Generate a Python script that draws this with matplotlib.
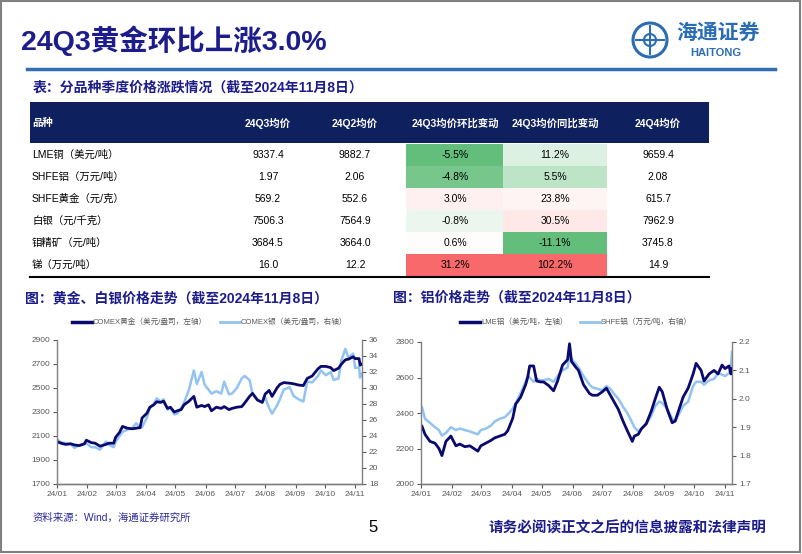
import matplotlib.pyplot as plt
import matplotlib.dates as mdates
import numpy as np
import pandas as pd
from matplotlib.patches import Rectangle, Circle

plt.rcParams['font.family'] = ['Liberation Sans', 'Noto Sans CJK SC']

# ---- table data ----
products = ['LME铜（美元/吨）', 'SHFE铝（万元/吨）', 'SHFE黄金（元/克）',
            '白银（元/千克）', '钼精矿（元/吨）', '锑（万元/吨）']
q3_avg = [9337.4, 1.97, 569.2, 7506.3, 3684.5, 16.0]
q2_avg = [9882.7, 2.06, 552.6, 7564.9, 3664.0, 12.2]
qoq_pct = [-5.5, -4.8, 3.0, -0.8, 0.6, 31.2]
yoy_pct = [11.2, 5.5, 23.8, 30.5, -11.1, 102.2]
q4_avg = [9659.4, 2.08, 615.7, 7962.9, 3745.8, 14.9]
decimals = [1, 2, 1, 1, 1, 1]
headers = ['品种', '24Q3均价', '24Q2均价', '24Q3均价环比变动', '24Q3均价同比变动', '24Q4均价']

# ---- gold / silver ----
gs_dates = ['2024-01-02', '2024-01-05', '2024-01-10', '2024-01-15', '2024-01-19', '2024-01-24', '2024-01-29', '2024-01-31',
            '2024-02-05', '2024-02-09', '2024-02-14', '2024-02-20', '2024-02-23', '2024-02-28',
            '2024-03-01', '2024-03-05', '2024-03-08', '2024-03-13', '2024-03-18', '2024-03-22', '2024-03-26', '2024-03-28',
            '2024-04-02', '2024-04-05', '2024-04-09', '2024-04-12', '2024-04-16', '2024-04-19', '2024-04-23', '2024-04-26', '2024-04-30',
            '2024-05-03', '2024-05-07', '2024-05-10', '2024-05-15', '2024-05-20', '2024-05-23', '2024-05-28', '2024-05-31',
            '2024-06-04', '2024-06-07', '2024-06-12', '2024-06-17', '2024-06-20', '2024-06-25', '2024-06-28',
            '2024-07-03', '2024-07-08', '2024-07-11', '2024-07-16', '2024-07-19', '2024-07-24', '2024-07-29',
            '2024-08-01', '2024-08-05', '2024-08-08', '2024-08-13', '2024-08-16', '2024-08-20', '2024-08-26', '2024-08-30',
            '2024-09-04', '2024-09-09', '2024-09-13', '2024-09-18', '2024-09-24', '2024-09-27',
            '2024-10-02', '2024-10-07', '2024-10-10', '2024-10-15', '2024-10-18', '2024-10-22', '2024-10-25', '2024-10-30',
            '2024-11-01', '2024-11-05', '2024-11-06', '2024-11-08']
gold = [2050, 2040, 2030, 2035, 2025, 2020, 2035, 2065,
        2045, 2040, 2015, 2030, 2040, 2040,
        2090, 2130, 2180, 2165, 2160, 2165, 2170, 2250,
        2290, 2340, 2360, 2385, 2380, 2390, 2330, 2340, 2300,
        2310, 2320, 2360, 2390, 2430, 2340, 2355, 2345,
        2360, 2310, 2340, 2330, 2345, 2320, 2330,
        2340, 2345, 2375, 2430, 2455, 2400, 2380,
        2450, 2480, 2430, 2500, 2530, 2545, 2540, 2535,
        2525, 2520, 2580, 2600, 2660, 2680,
        2680, 2670, 2645, 2665, 2700, 2735, 2740, 2760,
        2745, 2745, 2690, 2700]
silver = [23.5, 23.2, 23.1, 23.0, 22.5, 22.9, 23.0, 23.1,
          22.6, 22.6, 22.3, 23.3, 22.9, 22.6,
          23.3, 24.0, 24.5, 24.8, 25.0, 25.6, 25.0, 25.1,
          26.3, 27.5, 28.0, 28.7, 28.3, 28.6, 27.3, 27.5, 26.7,
          26.8, 27.5, 28.2, 29.8, 32.2, 30.5, 32.0, 30.4,
          29.8, 29.3, 29.6, 29.3, 30.8, 29.2, 29.3,
          30.0, 31.2, 31.5, 31.0, 29.3, 28.5, 28.2,
          28.8, 27.5, 26.8, 27.8, 28.6, 29.8, 30.1, 29.0,
          28.6, 28.3, 30.8, 30.7, 31.5, 32.2,
          31.6, 32.0, 31.0, 31.2, 33.5, 34.9, 33.8, 34.3,
          32.5, 32.6, 31.3, 31.8]

# ---- aluminium ----
al_dates = ['2024-01-02', '2024-01-05', '2024-01-10', '2024-01-15', '2024-01-19', '2024-01-22', '2024-01-26', '2024-01-31',
            '2024-02-05', '2024-02-09', '2024-02-14', '2024-02-19', '2024-02-23', '2024-02-27',
            '2024-03-01', '2024-03-06', '2024-03-11', '2024-03-15', '2024-03-20', '2024-03-25', '2024-03-28',
            '2024-04-02', '2024-04-05', '2024-04-10', '2024-04-15', '2024-04-17', '2024-04-19', '2024-04-23', '2024-04-26', '2024-04-30',
            '2024-05-03', '2024-05-08', '2024-05-13', '2024-05-17', '2024-05-22', '2024-05-27', '2024-05-29', '2024-05-31',
            '2024-06-04', '2024-06-07', '2024-06-12', '2024-06-18', '2024-06-21', '2024-06-26',
            '2024-07-01', '2024-07-05', '2024-07-09', '2024-07-12', '2024-07-17', '2024-07-22', '2024-07-26', '2024-07-31',
            '2024-08-02', '2024-08-06', '2024-08-09', '2024-08-14', '2024-08-19', '2024-08-23', '2024-08-27', '2024-08-30',
            '2024-09-04', '2024-09-09', '2024-09-12', '2024-09-17', '2024-09-20', '2024-09-25', '2024-09-30',
            '2024-10-03', '2024-10-08', '2024-10-11', '2024-10-16', '2024-10-21', '2024-10-25', '2024-10-29',
            '2024-11-01', '2024-11-05', '2024-11-07', '2024-11-08']
lme_al = [2325, 2280, 2240, 2230, 2200, 2160, 2240, 2270,
          2215, 2225, 2210, 2215, 2200, 2185,
          2215, 2230, 2245, 2260, 2270, 2280, 2300,
          2370, 2450, 2490, 2560, 2600, 2665, 2665, 2580, 2575,
          2575, 2555, 2525, 2580, 2670, 2700, 2790, 2690,
          2660, 2640, 2560, 2510, 2500, 2500,
          2520, 2540, 2500, 2470, 2420, 2350, 2300, 2240,
          2270, 2280, 2310, 2340, 2410, 2480, 2545, 2520,
          2420, 2345, 2355, 2440, 2490, 2540, 2620,
          2680, 2640, 2580, 2620, 2640, 2620, 2670,
          2650, 2665, 2620, 2650]
shfe_al = [1.97, 1.93, 1.915, 1.90, 1.89, 1.87, 1.88, 1.90,
           1.89, 1.895, 1.89, 1.885, 1.88, 1.875,
           1.89, 1.895, 1.905, 1.92, 1.93, 1.935, 1.945,
           1.965, 1.985, 2.02, 2.06, 2.08, 2.075, 2.06, 2.07, 2.065,
           2.065, 2.07, 2.06, 2.08, 2.10, 2.11, 2.15, 2.14,
           2.125, 2.11, 2.08, 2.05, 2.04, 2.035,
           2.03, 2.045, 2.035, 2.02, 2.00, 1.97, 1.95, 1.915,
           1.90, 1.885, 1.895, 1.91, 1.94, 1.975, 1.99, 1.985,
           1.965, 1.93, 1.92, 1.955, 1.975, 1.99, 2.045,
           2.06, 2.06, 2.05, 2.065, 2.07, 2.09, 2.085,
           2.08, 2.09, 2.12, 2.165]

NAVY = '#1c1c8c'
DARK = '#0a0a6e'
LIGHT = '#93c3f0'
GRAY = '#595959'

fig = plt.figure(figsize=(8.02, 5.54), dpi=100)
bg = fig.add_axes([0, 0, 1, 1])
bg.set_xlim(0, 802)
bg.set_ylim(554, 0)
bg.axis('off')

# slide frame
bg.add_patch(Rectangle((1, 1), 799, 551, fill=False, ec='#808080', lw=1.5))

# title + rule
bg.text(21, 41, '24Q3黄金环比上涨3.0%', fontsize=20.5, fontweight='bold', color=NAVY, va='center')
bg.plot([27, 775], [69, 69], color='#2f6eb5', lw=2.5)

# logo
bg.add_patch(Circle((650, 40), 17, fill=False, ec='#2a6db5', lw=2.2))
bg.add_patch(Circle((650, 40), 6, fill=False, ec='#2a6db5', lw=1.5))
bg.plot([636, 664], [40, 40], color='#2a6db5', lw=1.5)
bg.plot([650, 650], [26, 54], color='#2a6db5', lw=1.5)
bg.text(718, 33, '海通证券', fontsize=15, fontweight='bold', color='#2a6db5', ha='center', va='center')
bg.text(716, 53, 'HAITONG', fontsize=8, fontweight='bold', color='#2a6db5', ha='center', va='center')

# ---- table ----
bg.text(33, 88, '表：分品种季度价格涨跌情况（截至2024年11月8日）', fontsize=10, fontweight='bold',
        color=NAVY, va='center')
tx0, tx1 = 30, 709
bg.add_patch(Rectangle((tx0, 102), tx1 - tx0, 41, color='#0e205e', lw=0))
col_x = [32, 268, 355, 455, 555, 658]
col_edges = [(406, 503), (503, 607)]
for i, h in enumerate(headers):
    bg.text(col_x[i], 123, h, fontsize=7.5, fontweight='bold', color='white',
            ha='left' if i == 0 else 'center', va='center')


def scale_color(v, vals):
    green = np.array([99, 190, 123]) / 255
    red = np.array([248, 105, 107]) / 255
    white = np.ones(3)
    lo, mid, hi = min(vals), np.median(vals), max(vals)
    if v <= mid:
        t = (mid - v) / (mid - lo)
        return white * (1 - t) + green * t
    t = (v - mid) / (hi - mid)
    return white * (1 - t) + red * t


row_h = 22
for r, name in enumerate(products):
    y0 = 144 + r * row_h
    yc = y0 + row_h / 2
    for k, vals in enumerate([qoq_pct, yoy_pct]):
        a, b = col_edges[k]
        bg.add_patch(Rectangle((a, y0), b - a, row_h, color=scale_color(vals[r], vals), lw=0))
    d = decimals[r]
    cells = [name, f'{q3_avg[r]:.{d}f}', f'{q2_avg[r]:.{d}f}', f'{qoq_pct[r]:.1f}%',
             f'{yoy_pct[r]:.1f}%', f'{q4_avg[r]:.{d}f}']
    for i, s in enumerate(cells):
        bg.text(col_x[i], yc, s, fontsize=7.5, color='black',
                ha='left' if i == 0 else 'center', va='center')
bg.plot([tx0, tx1], [277, 277], color='black', lw=1.5)

# ---- chart titles & legends ----
bg.text(25, 298, '图：黄金、白银价格走势（截至2024年11月8日）', fontsize=10, fontweight='bold',
        color=NAVY, va='center')
bg.text(393, 298, '图：铝价格走势（截至2024年11月8日）', fontsize=10, fontweight='bold',
        color=NAVY, va='center')

legends = [(72, DARK, 2.5, 'COMEX黄金（美元/盎司，左轴）'), (220, LIGHT, 2, 'COMEX银（美元/盎司，右轴）'),
           (460, DARK, 2.5, 'LME铝（美元/吨，左轴）'), (580, LIGHT, 2, 'SHFE铝（万元/吨，右轴）')]
for lx, c, w, s in legends:
    bg.plot([lx, lx + 20], [322, 322], color=c, lw=w)
    bg.text(lx + 21, 322, s, fontsize=5.5, color=GRAY, va='center')

# footer
bg.text(33, 518, '资料来源：Wind，海通证券研究所', fontsize=7.5, color='#2b2b9b', va='center')
bg.text(373, 527, '5', fontsize=12, color='black', ha='center', va='center')
bg.text(766, 528, '请务必阅读正文之后的信息披露和法律声明', fontsize=10.5, fontweight='bold',
        color=NAVY, ha='right', va='center')


def dual_axes(rect, left_ticks, right_ticks, right_fmt):
    ax = fig.add_axes(rect)
    axr = ax.twinx()
    ax.set_zorder(axr.get_zorder() + 1)
    ax.patch.set_visible(False)
    for a in (ax, axr):
        a.spines['top'].set_visible(False)
        for s in ('left', 'right', 'bottom'):
            a.spines[s].set_color('#808080')
            a.spines[s].set_linewidth(1)
        a.tick_params(labelsize=6, colors=GRAY, length=3, width=0.8, pad=2)
    ax.spines['right'].set_visible(False)
    axr.spines['left'].set_visible(False)
    ax.set_ylim(left_ticks[0], left_ticks[-1])
    ax.set_yticks(left_ticks)
    axr.set_ylim(right_ticks[0], right_ticks[-1])
    axr.set_yticks(right_ticks)
    axr.set_yticklabels([right_fmt.format(t) for t in right_ticks])
    ax.set_xlim(pd.Timestamp('2024-01-01'), pd.Timestamp('2024-11-08'))
    ax.xaxis.set_major_locator(mdates.MonthLocator())
    ax.xaxis.set_major_formatter(mdates.DateFormatter('%y/%m'))
    return ax, axr


# gold / silver chart
ax1, ax1r = dual_axes([57 / 802, 1 - 484 / 554, 305 / 802, 144 / 554],
                      list(range(1700, 3000, 200)), list(range(18, 37, 2)), '{:d}')
d1 = pd.to_datetime(gs_dates)
ax1r.plot(d1, silver, color=LIGHT, lw=1.8)
ax1.plot(d1, gold, color=DARK, lw=2)

# aluminium chart
ax2, ax2r = dual_axes([421 / 802, 1 - 484 / 554, 311 / 802, 142 / 554],
                      list(range(2000, 2900, 200)), list(np.round(np.arange(1.7, 2.25, 0.1), 1)), '{:.1f}')
d2 = pd.to_datetime(al_dates)
ax2r.plot(d2, shfe_al, color=LIGHT, lw=1.8)
ax2.plot(d2, lme_al, color=DARK, lw=2)

fig.savefig('out.png', dpi=100)
